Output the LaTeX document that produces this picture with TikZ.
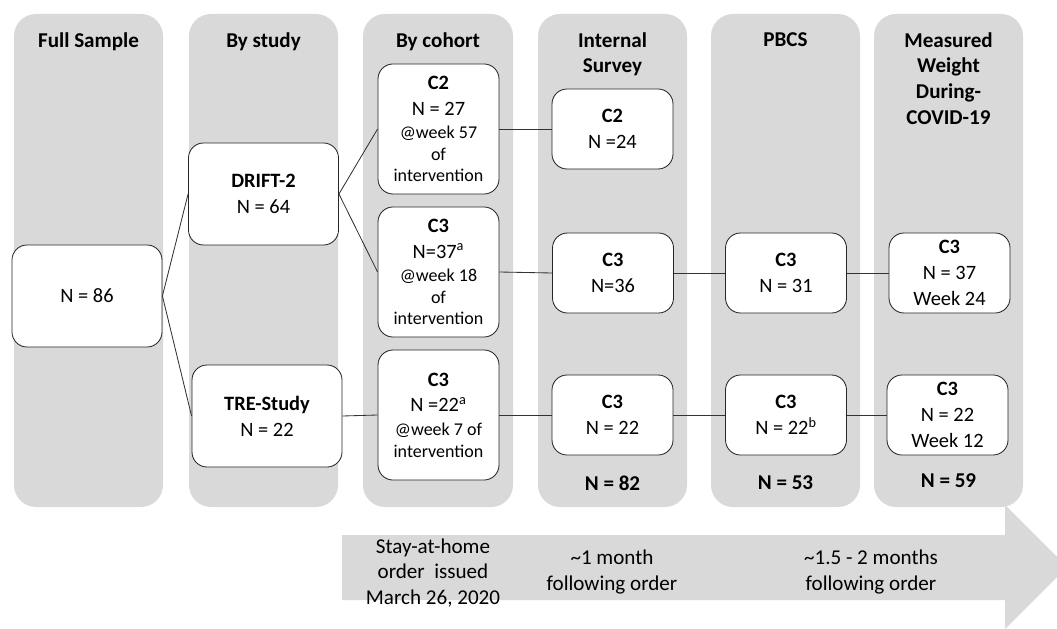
\documentclass[tikz,border=0pt]{standalone}
\usepackage{fontspec}
\setmainfont{Carlito}
\usepackage{tikz}
\usetikzlibrary{positioning}
\newlength\pxl
\setlength\pxl{0.025cm}
\definecolor{panel}{HTML}{D9D9D9}
\tikzstyle{sample}=[draw=black!85,fill=white,line width=0.6pt,rounded corners=15\pxl,align=center,inner sep=1pt,font=\fontsize{14.5}{18.3}\selectfont]
\tikzstyle{colhead}=[anchor=north,align=center,inner sep=0pt,font=\bfseries\fontsize{15}{18.3}\selectfont]
\tikzstyle{total}=[inner sep=0pt,font=\bfseries\fontsize{15}{18.3}\selectfont]
\tikzstyle{timeline}=[align=center,inner sep=0pt,font=\fontsize{15}{17.8}\selectfont]
\tikzstyle{link}=[draw=black!80,line width=0.6pt]
\newcommand{\smalltxt}{\fontsize{12.8}{15.6}\selectfont}

\begin{document}
\begin{tikzpicture}[x=\pxl,y=-\pxl]
\clip (0,0) rectangle (1057,629);
% timeline arrow
\fill[panel] (342,535) -- (1005,535) -- (1005,505) -- (1067,567) -- (1005,629) -- (1005,600) -- (342,600) -- cycle;
% columns
\foreach \xa/\xb in {14/163, 189/338, 363/513, 538/687, 711/860, 874/1023}
  \fill[panel,rounded corners=22\pxl] (\xa,14) rectangle (\xb,507);

\node[colhead] (hfull) at (88.5,32) {Full Sample};
\node[colhead] (hstudy) at (263.5,32) {By study};
\node[colhead] (hcohort) at (438,32) {By cohort};
\node[colhead] (hsurvey) at (612.5,32) {Internal\\Survey};
\node[colhead] (hpbcs) at (785.5,32) {PBCS};
\node[colhead] (hweight) at (948.5,32) {Measured\\Weight\\During-\\COVID-19};

\tikzstyle{wide}=[minimum width=150\pxl,minimum height=102\pxl]
\tikzstyle{tall}=[minimum width=121\pxl,minimum height=130\pxl]
\tikzstyle{short}=[minimum width=121\pxl,minimum height=80\pxl]

\node[sample,wide] (full) at (87,296) {N = 86};
\node[sample,wide] (drift) at (263.5,194) {\textbf{DRIFT-2}\\N = 64};
\node[sample,wide] (tre) at (267,416) {\textbf{TRE-Study}\\N = 22};

\node[sample,tall] (c2) at (438.5,129) {\textbf{C2}\\N = 27\\[-1.5pt]\smalltxt @week 57\\[-3pt]\smalltxt of\\[-3pt]\smalltxt intervention};
\node[sample,tall] (c3d) at (438.5,272) {\textbf{C3}\\N=37\textsuperscript{a}\\[-1.5pt]\smalltxt @week 18\\[-3pt]\smalltxt of\\[-3pt]\smalltxt intervention};
\node[sample,tall] (c3t) at (438.5,415) {\textbf{C3}\\N =22\textsuperscript{a}\\[-1.5pt]\smalltxt @week 7 of\\[-3pt]\smalltxt intervention};

\node[sample,short] (sv2) at (612.5,129) {\textbf{C2}\\N =24};
\node[sample,short] (sv3d) at (613,273) {\textbf{C3}\\N=36};
\node[sample,short] (sv3t) at (612.5,415) {\textbf{C3}\\N = 22};

\node[sample,short] (pb3d) at (786,273) {\textbf{C3}\\N = 31};
\node[sample,short] (pb3t) at (786,415) {\textbf{C3}\\N = 22\textsuperscript{b}};

\node[sample,short] (wt3d) at (949.5,273) {\textbf{C3}\\N = 37\\Week 24};
\node[sample,short] (wt3t) at (947.5,415) {\textbf{C3}\\N = 22\\Week 12};

\node[total] (nsurvey) at (612.5,483) {N = 82};
\node[total] (npbcs) at (785.5,483) {N = 53};
\node[total] (nweight) at (948.5,481) {N = 59};

\node[timeline] (order) at (433,573) {Stay-at-home\\order~ issued\\March 26, 2020};
\node[timeline] (month) at (612,572) {\textasciitilde1 month\\following order};
\node[timeline] (months) at (871,572) {\textasciitilde1.5 - 2 months\\following order};

\draw[link] (full.east) -- (drift.west);
\draw[link] (full.east) -- (tre.west);
\draw[link] (drift.east) -- (c2.west);
\draw[link] (drift.east) -- (c3d.west);
\draw[link] (tre.east) -- (c3t.west);
\draw[link] (c2.east) -- (sv2.west);
\draw[link] (c3d.east) -- (sv3d.west);
\draw[link] (c3t.east) -- (sv3t.west);
\draw[link] (sv3d.east) -- (pb3d.west);
\draw[link] (sv3t.east) -- (pb3t.west);
\draw[link] (pb3d.east) -- (wt3d.west);
\draw[link] (pb3t.east) -- (wt3t.west);
\end{tikzpicture}
\end{document}
